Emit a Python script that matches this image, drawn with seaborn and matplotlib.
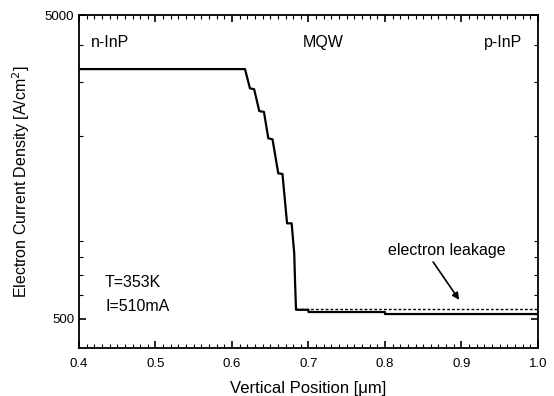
import matplotlib
matplotlib.use("Agg")
import matplotlib.pyplot as plt
from matplotlib.ticker import FixedLocator, MultipleLocator, LogLocator, NullFormatter
import numpy as np
import pandas as pd
import seaborn as sns

# electron current density profile
pos = [0.4, 0.617, 0.6235, 0.629, 0.6357, 0.6418, 0.6475, 0.653, 0.6605, 0.666,
       0.6706, 0.672, 0.678, 0.6814, 0.6824, 0.6837, 0.6837, 0.70, 0.70, 0.80, 0.80, 1.0]
density = [3320, 3320, 2870, 2850, 2415, 2400, 1965, 1950, 1507, 1500,
           1127, 1032, 1032, 822, 670, 538, 536, 536, 527, 527, 519, 519]

# leakage level (dotted)
leak_pos = [0.6837, 1.0]
leak_density = [541, 541]

x_ticks = [0.4, 0.5, 0.6, 0.7, 0.8, 0.9, 1.0]
y_ticks = [500, 5000]

sns.set_style("ticks", {'axes.edgecolor': 'black', 'text.color': 'black',
                        'axes.labelcolor': 'black', 'xtick.color': 'black',
                        'ytick.color': 'black'})
plt.rcParams['font.family'] = ['Liberation Sans', 'DejaVu Sans']

df = pd.DataFrame({'pos': pos, 'density': density})
df_leak = pd.DataFrame({'pos': leak_pos, 'density': leak_density})

fig = plt.figure(figsize=(5.54, 3.96), dpi=100)
ax = fig.add_axes([0.1426, 0.121, 0.8284, 0.841])

sns.lineplot(data=df, x='pos', y='density', sort=False, estimator=None,
             color='black', linewidth=1.6, ax=ax)
sns.lineplot(data=df_leak, x='pos', y='density', sort=False, estimator=None,
             color='black', linewidth=1.0, linestyle=(0, (2, 1.5)), ax=ax)

ax.set_yscale('log')
ax.set_xlim(0.4, 1.0)
ax.set_ylim(401, 5000)

ax.xaxis.set_major_locator(FixedLocator(x_ticks))
ax.xaxis.set_minor_locator(MultipleLocator(0.01))
ax.set_xticklabels(["%.1f" % t for t in x_ticks])
ax.yaxis.set_major_locator(FixedLocator(y_ticks))
ax.yaxis.set_minor_locator(LogLocator(base=10, subs=np.arange(2, 10)))
ax.yaxis.set_minor_formatter(NullFormatter())
ax.set_yticklabels([str(t) for t in y_ticks])

ax.tick_params(which='both', direction='in', top=True, right=True, labelsize=9.5,
               colors='black')
ax.tick_params(axis='x', which='major', pad=7)
ax.tick_params(which='major', length=5, width=1.2)
ax.tick_params(which='minor', length=3, width=0.8)
for s in ax.spines.values():
    s.set_linewidth(1.3)
    s.set_color('black')

ax.set_xlabel("Vertical Position [\u03bcm]", fontsize=12, labelpad=8)
ax.set_ylabel("Electron Current Density [A/cm$^2$]", fontsize=11.5, labelpad=9)

ax.text(0.4157, 4075, "n-InP", fontsize=11.5, va='center', ha='left')
ax.text(0.693, 4075, "MQW", fontsize=11.5, va='center', ha='left')
ax.text(0.979, 4075, "p-InP", fontsize=11.5, va='center', ha='right')
ax.text(0.434, 657, "T=353K", fontsize=11.5, va='center', ha='left')
ax.text(0.434, 548, "I=510mA", fontsize=11.5, va='center', ha='left')

ax.text(0.881, 843, "electron leakage", ha='center', va='center', fontsize=11.5)
ax.annotate("", xy=(0.897, 578), xytext=(0.863, 770),
            arrowprops=dict(arrowstyle='-|>', color='black', lw=1.2,
                            shrinkA=0, shrinkB=0, mutation_scale=10))

fig.savefig("out.png", dpi=100)
